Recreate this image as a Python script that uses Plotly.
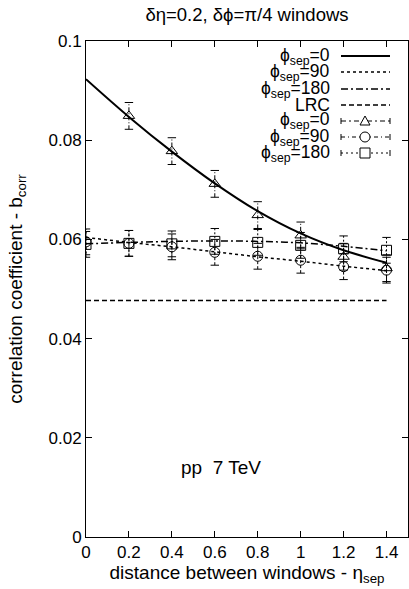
import plotly.graph_objects as go

# ---------------- data ----------------
eta_all = [0.0, 0.2, 0.4, 0.6, 0.8, 1.0, 1.2, 1.4]
eta_tri = [0.2, 0.4, 0.6, 0.8, 1.0, 1.2, 1.4]

# fitted curves
fit_phi0 = [0.0923, 0.0847, 0.0777, 0.0713, 0.0657, 0.0612, 0.0578, 0.0553]
fit_phi90 = [0.0604, 0.0594, 0.0585, 0.0575, 0.0565, 0.0556, 0.0546, 0.0537]
fit_phi180 = [0.0591, 0.0594, 0.0596, 0.0597, 0.0596, 0.0593, 0.0586, 0.0577]
lrc_x = [0.0, 1.4]
lrc_y = [0.0477, 0.0477]

# measured points
pts_phi0 = [0.0849, 0.0778, 0.0712, 0.0649, 0.0608, 0.0565, 0.0542]
pts_phi90 = [0.0595, 0.0592, 0.0585, 0.0574, 0.0566, 0.0558, 0.0545, 0.0538]
pts_phi180 = [0.0590, 0.0592, 0.0591, 0.0596, 0.0594, 0.0588, 0.0581, 0.0578]
err_phi0 = [0.0027] * 7
err_phi90 = [0.0026] * 8
err_phi180 = [0.0026] * 8

x_ticks = [0, 0.2, 0.4, 0.6, 0.8, 1.0, 1.2, 1.4]
x_tick_labels = ["0", "0.2", "0.4", "0.6", "0.8", "1", "1.2", "1.4"]
y_ticks = [0, 0.02, 0.04, 0.06, 0.08, 0.1]
y_tick_labels = ["0", "0.02", "0.04", "0.06", "0.08", "0.1"]

legend_labels = ["ϕ<sub>sep</sub>=0", "ϕ<sub>sep</sub>=90", "ϕ<sub>sep</sub>=180", "LRC",
                 "ϕ<sub>sep</sub>=0", "ϕ<sub>sep</sub>=90", "ϕ<sub>sep</sub>=180"]

FONT = "Liberation Sans, Arial, sans-serif"
FS_TICK = 17
FS_LEG = 17.5
FS_TXT = 19
W, H = 409, 589
L, R, T, B = 86, 408, 41, 537

def px(x):
    return (x - L) / (R - L)

def py(y):
    return (B - y) / (B - T)

fig = go.Figure()

fig.add_trace(go.Scatter(x=eta_all, y=fit_phi0, mode="lines", line=dict(color="black", width=2, shape="spline")))
fig.add_trace(go.Scatter(x=eta_all, y=fit_phi90, mode="lines", line=dict(color="black", width=1.5, dash="dot", shape="spline")))
fig.add_trace(go.Scatter(x=eta_all, y=fit_phi180, mode="lines", line=dict(color="black", width=1.5, dash="7px,3px,2px,3px", shape="spline")))
fig.add_trace(go.Scatter(x=lrc_x, y=lrc_y, mode="lines", line=dict(color="black", width=1.5, dash="5px,3px")))


def add_points(xs, ys, es, symbol, dash):
    # dashed error bars (gnuplot style) built from the data arrays
    bx, by, cx_, cy_ = [], [], [], []
    for x, y, e in zip(xs, ys, es):
        bx += [x, x, None]
        by += [y - e, y + e, None]
        cx_ += [x, x]
        cy_ += [y - e, y + e]
    fig.add_trace(go.Scatter(x=bx, y=by, mode="lines", line=dict(color="black", width=1, dash=dash)))
    fig.add_trace(go.Scatter(x=cx_, y=cy_, mode="markers",
                             marker=dict(symbol="line-ew-open", size=6, color="black",
                                         line=dict(color="black", width=1))))
    fig.add_trace(go.Scatter(x=xs, y=ys, mode="markers",
                             marker=dict(symbol=symbol, color="black", size=10,
                                         line=dict(color="black", width=1))))


add_points(eta_tri, pts_phi0, err_phi0, "triangle-up-open", "4px,2px,1px,2px")
add_points(eta_all, pts_phi90, err_phi90, "circle-open", "3px,2px")
add_points(eta_all, pts_phi180, err_phi180, "square-open", "2px,2px")

# ---------------- custom legend (gnuplot style) ----------------
rows = [56, 72, 89, 105, 121, 137, 153]
annotations = []
shapes = []
for lab, ry in zip(legend_labels, rows):
    annotations.append(dict(text=lab, x=px(331), y=py(ry), xref="paper", yref="paper",
                            xanchor="right", yanchor="middle", showarrow=False, borderpad=0,
                            font=dict(family=FONT, size=FS_LEG, color="black")))

line_styles = [dict(width=2), dict(width=1.5, dash="dot"), dict(width=1.5, dash="7px,3px,2px,3px"),
               dict(width=1.5, dash="5px,3px"), dict(width=1, dash="5px,3px,2px,3px"),
               dict(width=1, dash="4px,3px,1px,3px"), dict(width=1, dash="2px,3px")]
for i, (ry, st) in enumerate(zip(rows, line_styles)):
    shapes.append(dict(type="line", xref="paper", yref="paper", x0=px(341), x1=px(390),
                       y0=py(ry), y1=py(ry), line=dict(color="black", **st)))
    if i >= 4:
        for cx in (341, 390):
            shapes.append(dict(type="line", xref="paper", yref="paper", x0=px(cx), x1=px(cx),
                               y0=py(ry - 3), y1=py(ry + 3), line=dict(color="black", width=1)))
# legend markers
cx = 365
ry = rows[4]
shapes.append(dict(type="path", xref="paper", yref="paper",
                   path=f"M {px(cx-5)},{py(ry+4)} L {px(cx+5)},{py(ry+4)} L {px(cx)},{py(ry-5)} Z",
                   fillcolor="white", line=dict(color="black", width=1)))
ry = rows[5]
shapes.append(dict(type="circle", xref="paper", yref="paper", x0=px(cx-5), x1=px(cx+5),
                   y0=py(ry+5), y1=py(ry-5), fillcolor="white", line=dict(color="black", width=1)))
ry = rows[6]
shapes.append(dict(type="rect", xref="paper", yref="paper", x0=px(cx-5), x1=px(cx+5),
                   y0=py(ry+5), y1=py(ry-5), fillcolor="white", line=dict(color="black", width=1)))

annotations.append(dict(text="pp\u00a0 7 TeV", x=0.63, y=0.0141, xref="x", yref="y",
                        xanchor="center", yanchor="middle", showarrow=False,
                        font=dict(family=FONT, size=FS_TXT, color="black")))

axis_common = dict(showline=True, linecolor="black", linewidth=1, mirror="ticks",
                   ticks="inside", ticklen=6, tickcolor="black", showgrid=False, zeroline=False,
                   automargin=False,
                   tickfont=dict(family=FONT, size=FS_TICK, color="black"))

fig.update_layout(
    width=W, height=H,
    margin=dict(l=L, r=W - R, t=T, b=H - B, autoexpand=False),
    paper_bgcolor="white", plot_bgcolor="white",
    showlegend=False,
    title=dict(text="δη=0.2, δϕ=π/4 windows", x=px(247), xref="paper", y=1 - 15 / H, yanchor="middle",
               automargin=False,
               font=dict(family=FONT, size=18.5, color="black")),
    xaxis=dict(range=[0, 1.5], tickvals=x_ticks, ticktext=x_tick_labels,
               title=dict(text="distance between windows - η<sub>sep</sub>", standoff=2,
                          font=dict(family=FONT, size=FS_TXT, color="black")), **axis_common),
    yaxis=dict(range=[0, 0.1], tickvals=y_ticks, ticktext=y_tick_labels,
               title=dict(text="correlation coefficient - b<sub>corr</sub>", standoff=20,
                          font=dict(family=FONT, size=FS_TXT, color="black")), **axis_common),
    annotations=annotations, shapes=shapes,
)

fig.write_html("out.html", config={"displayModeBar": False},
               post_script="document.body.style.margin='0';document.body.style.overflow='hidden';")
